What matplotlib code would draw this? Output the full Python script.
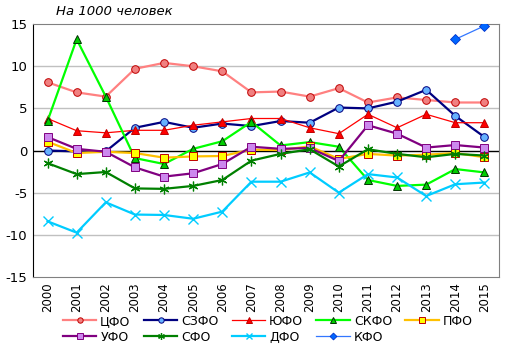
import matplotlib
matplotlib.use("Agg")
import matplotlib.pyplot as plt

years = [str(y) for y in range(2000, 2016)]
cfo  = [8.1, 6.9, 6.4, 9.7, 10.4, 10.0, 9.4, 6.9, 7.0, 6.4, 7.4, 5.7, 6.3, 6.0, 5.7, 5.7]
szfo = [0.0, -0.1, -0.1, 2.7, 3.4, 2.7, 3.2, 2.9, 3.5, 3.3, 5.1, 5.0, 5.8, 7.2, 4.1, 1.6]
yufo = [3.8, 2.35, 2.1, 2.4, 2.4, 3.0, 3.4, 3.8, 3.8, 2.7, 2.0, 4.3, 2.7, 4.3, 3.3, 3.3]
skfo = [3.5, 13.2, 6.4, -0.9, -1.6, 0.2, 1.1, 3.4, 0.6, 1.0, 0.45, -3.5, -4.2, -4.05, -2.2, -2.6]
pfo  = [1.05, -0.3, -0.15, -0.3, -0.85, -0.7, -0.65, 0.1, 0.05, 0.5, -1.0, -0.4, -0.6, -0.5, -0.3, -0.8]
ufo  = [1.6, 0.2, -0.15, -2.0, -3.1, -2.7, -1.6, 0.45, 0.2, 0.3, -1.25, 3.0, 2.0, 0.35, 0.65, 0.35]
sfo  = [-1.5, -2.8, -2.55, -4.5, -4.55, -4.2, -3.5, -1.2, -0.4, 0.15, -1.9, 0.15, -0.4, -0.8, -0.4, -0.6]
dfo  = [-8.4, -9.75, -6.15, -7.6, -7.65, -8.1, -7.25, -3.7, -3.7, -2.6, -5.0, -2.8, -3.2, -5.4, -4.0, -3.8]
kfo_years = ["2014", "2015"]
kfo  = [13.2, 14.8]
yticks = [-15, -10, -5, 0, 5, 10, 15]

fig = plt.figure(figsize=(5.15, 3.55), dpi=100)
ax = fig.add_axes([0.064, 0.22, 0.905, 0.712])

x = list(range(len(years)))
xk = [years.index(y) for y in kfo_years]

h = {}
h["ЦФО"], = ax.plot(x, cfo, color="#FF8080", lw=1.6, marker="o", ms=5.5, mfc="#F08080", mec="#C00000", mew=0.7, label="ЦФО", zorder=3)
h["СЗФО"], = ax.plot(x, szfo, color="#000080", lw=1.6, marker="o", ms=5.5, mfc="#66B2FF", mec="#000080", mew=0.7, label="СЗФО", zorder=3)
h["ЮФО"], = ax.plot(x, yufo, color="#FF0000", lw=0.9, marker="^", ms=6, mfc="#FF0000", mec="#C00000", mew=0.7, label="ЮФО", zorder=3)
h["СКФО"], = ax.plot(x, skfo, color="#00FF00", lw=1.6, marker="^", ms=6, mfc="#00CC00", mec="#003300", mew=0.7, label="СКФО", zorder=3)
h["ПФО"], = ax.plot(x, pfo, color="#FFC000", lw=1.6, marker="s", ms=5.5, mfc="#FFFF00", mec="#C00000", mew=0.7, label="ПФО", zorder=3)
h["УФО"], = ax.plot(x, ufo, color="#800080", lw=1.6, marker="s", ms=5.5, mfc="#CC88EE", mec="#800080", mew=0.7, label="УФО", zorder=3)
h["СФО"], = ax.plot(x, sfo, color="#008000", lw=1.6, marker=(6, 2, 0), ms=7, mec="#008000", mew=0.9, label="СФО", zorder=3)
h["ДФО"], = ax.plot(x, dfo, color="#00CCFF", lw=1.6, marker="x", ms=6.5, mec="#00CCFF", mew=1.0, label="ДФО", zorder=3)
h["КФО"], = ax.plot(xk, kfo, color="#3377FF", lw=0.9, marker="D", ms=5, mfc="#0066FF", mec="#0033CC", mew=0.6, label="КФО", zorder=3)

ax.set_xlim(-0.5, len(years) - 0.5)
ax.set_ylim(-15, 15)
ax.set_yticks(yticks)
ax.set_yticklabels([str(v) for v in yticks], fontsize=9.5)
ax.set_xticks(x)
ax.set_xticklabels(years, rotation=90, fontsize=8.5)
ax.tick_params(axis="both", length=0, pad=4)
for v in yticks:
    if v not in (0, -15, 15):
        ax.axhline(v, color="#C0C0C0", lw=1, zorder=1)
ax.axhline(0, color="black", lw=1, zorder=2)
for s in ["top", "right", "bottom"]:
    ax.spines[s].set_color("#808080")
ax.spines["left"].set_color("black")

ax.text(0.05, 1.025, "На 1000 человек", transform=ax.transAxes, fontsize=9.5, style="italic", ha="left", va="bottom")

order = ["ЦФО", "УФО", "СЗФО", "СФО", "ЮФО", "ДФО", "СКФО", "КФО", "ПФО"]
fig.legend([h[k] for k in order], order, loc="lower center", bbox_to_anchor=(0.52, 0.0), ncol=5, frameon=False, fontsize=9,
           handlelength=2.7, columnspacing=1.05, handletextpad=0.3, markerscale=0.7, labelspacing=0.25)

fig.savefig("out.png", dpi=100)
